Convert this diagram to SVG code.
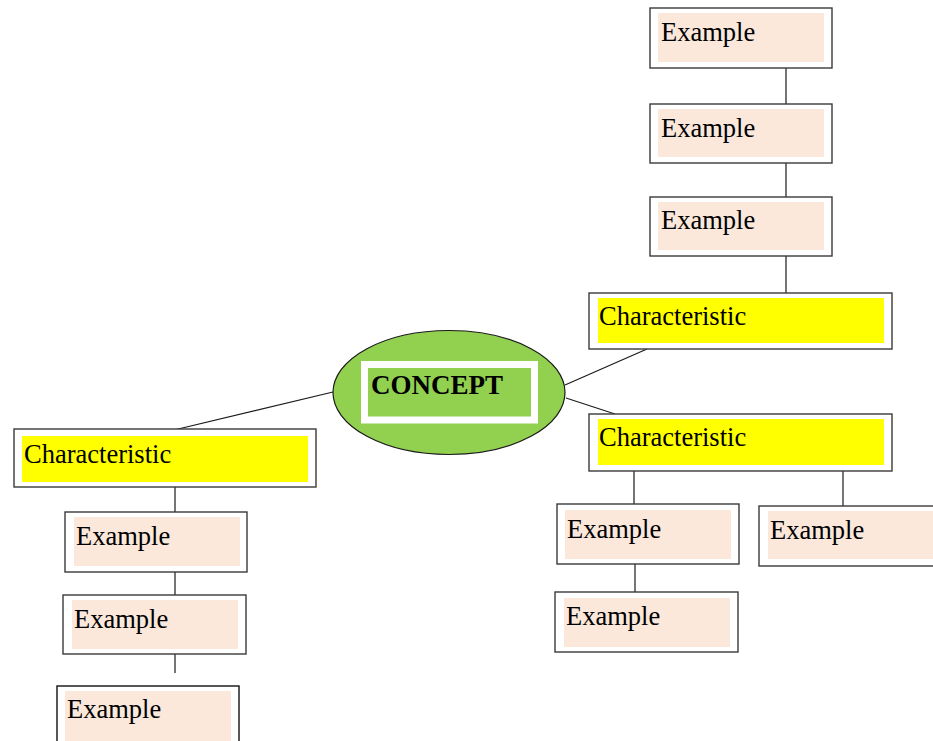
<svg xmlns="http://www.w3.org/2000/svg" width="933" height="741" viewBox="0 0 933 741">
  <style>
    .frame { fill: #ffffff; stroke: #3a3a3a; stroke-width: 1.4; }
    .ex { fill: #fbe8db; }
    .ch { fill: #ffff00; }
    .conn line { stroke: #1a1a1a; stroke-width: 1.2; }
  </style>
  <rect width="933" height="741" fill="#ffffff"/>

  <!-- connectors -->
  <g id="connectors" class="conn">
    <line x1="786" y1="68" x2="786" y2="104"/>
    <line x1="786" y1="163" x2="786" y2="197"/>
    <line x1="786" y1="256" x2="786" y2="293"/>
    <line x1="647" y1="349" x2="565" y2="385"/>
    <line x1="566" y1="398" x2="615" y2="414"/>
    <line x1="333" y1="392" x2="174" y2="430"/>
    <line x1="175" y1="487" x2="175" y2="512"/>
    <line x1="175" y1="572" x2="175" y2="595"/>
    <line x1="175" y1="654" x2="175" y2="673"/>
    <line x1="634" y1="471" x2="634" y2="504"/>
    <line x1="635" y1="564" x2="635" y2="592"/>
    <line x1="843" y1="471" x2="843" y2="506"/>
  </g>

  <g font-family="Liberation Serif, Times New Roman, serif" font-size="26.5" fill="#000">
    <!-- central concept -->
    <g id="concept">
      <ellipse cx="449" cy="392.5" rx="116" ry="62" fill="#92d050" stroke="#1a1a1a" stroke-width="1.2"/>
      <rect x="364.5" y="364.5" width="170" height="55.5" fill="none" stroke="#ffffff" stroke-width="7"/>
      <text x="371" y="394" font-size="27" font-weight="bold">CONCEPT</text>
    </g>

    <!-- upper right branch -->
    <g id="example-top-1">
      <rect class="frame" x="650" y="8" width="182" height="60"/>
      <rect class="ex" x="658" y="13" width="166" height="49"/>
      <text x="661" y="41">Example</text>
    </g>
    <g id="example-top-2">
      <rect class="frame" x="650" y="104" width="182" height="59"/>
      <rect class="ex" x="658" y="109" width="166" height="48"/>
      <text x="661" y="137">Example</text>
    </g>
    <g id="example-top-3">
      <rect class="frame" x="650" y="197" width="182" height="59"/>
      <rect class="ex" x="658" y="202" width="166" height="48"/>
      <text x="661" y="229">Example</text>
    </g>
    <g id="characteristic-upper">
      <rect class="frame" x="589" y="293" width="303" height="56"/>
      <rect class="ch" x="598" y="298" width="286" height="45"/>
      <text x="599" y="325">Characteristic</text>
    </g>

    <!-- lower right branch -->
    <g id="characteristic-lower">
      <rect class="frame" x="589" y="414" width="303" height="57"/>
      <rect class="ch" x="598" y="419" width="286" height="46"/>
      <text x="599" y="446">Characteristic</text>
    </g>
    <g id="example-right-1">
      <rect class="frame" x="557" y="504" width="182" height="60"/>
      <rect class="ex" x="565" y="510" width="166" height="49"/>
      <text x="567" y="538">Example</text>
    </g>
    <g id="example-right-2">
      <rect class="frame" x="555" y="592" width="183" height="60"/>
      <rect class="ex" x="564" y="598" width="166" height="49"/>
      <text x="566" y="625">Example</text>
    </g>
    <g id="example-right-3">
      <rect class="frame" x="759" y="506" width="182" height="60"/>
      <rect class="ex" x="768" y="511" width="170" height="48"/>
      <text x="770" y="539">Example</text>
    </g>

    <!-- left branch -->
    <g id="characteristic-left">
      <rect class="frame" x="14" y="429" width="302" height="58"/>
      <rect class="ch" x="22" y="436" width="286" height="46"/>
      <text x="24" y="463">Characteristic</text>
    </g>
    <g id="example-left-1">
      <rect class="frame" x="65" y="512" width="182" height="60"/>
      <rect class="ex" x="74" y="517" width="166" height="49"/>
      <text x="76" y="545">Example</text>
    </g>
    <g id="example-left-2">
      <rect class="frame" x="63" y="595" width="183" height="59"/>
      <rect class="ex" x="72" y="600" width="166" height="49"/>
      <text x="74" y="628">Example</text>
    </g>
    <g id="example-left-3">
      <rect class="frame" x="57" y="686" width="182" height="60" style="stroke:#111"/>
      <rect class="ex" x="65" y="691" width="166" height="50"/>
      <text x="67" y="718">Example</text>
    </g>
  </g>
</svg>
